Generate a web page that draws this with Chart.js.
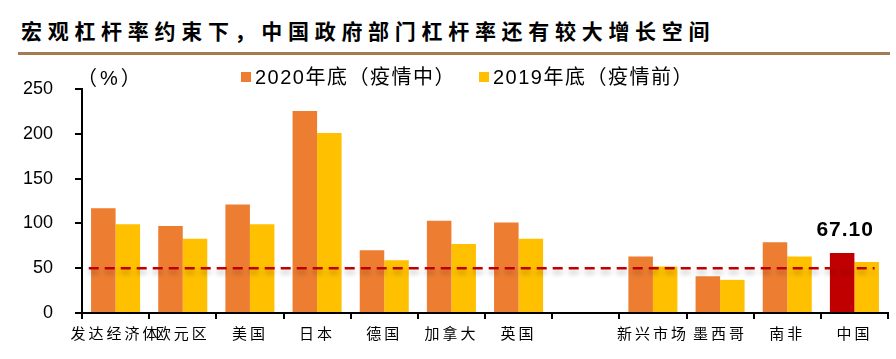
<!DOCTYPE html>
<html>
<head>
<meta charset="utf-8">
<script src="https://cdn.jsdelivr.net/npm/chart.js@4.4.1/dist/chart.umd.min.js"></script>
<style>
  body { margin: 0; background: #fff; }
  #wrap { position: relative; width: 896px; height: 359px; overflow: hidden; }
  #title {
    position: absolute; left: 21px; top: 20px;
    font: bold 21px/1 "Noto Sans CJK SC", sans-serif;
    letter-spacing: 5.7px; color: #000; white-space: nowrap;
  }
  #rule { position: absolute; left: 18px; top: 52px; width: 872px; height: 3px; background: #A37B53; }
  #c { position: absolute; left: 0; top: 0; }
</style>
</head>
<body>
<div id="wrap">
  <div id="title">宏观杠杆率约束下，中国政府部门杠杆率还有较大增长空间</div>
  <div id="rule"></div>
  <canvas id="c" width="896" height="359"></canvas>
</div>
<script>
const categories = ["发达经济体", "欧元区", "美国", "日本", "德国", "加拿大", "英国", "", "新兴市场", "墨西哥", "南非", "中国"];
const lev2020 = [117, 97, 121, 225.5, 70, 103, 101, null, 63, 41, 79, 67.1];
const lev2019 = [99, 83, 99, 201, 59, 77, 83, null, 52, 37, 63, 57];
const label2020 = "2020年底（疫情中）";
const label2019 = "2019年底（疫情前）";
const refLevel = 50;
const refSpan = [-0.4, 11.3]; // in category units
const yTicks = [0, 50, 100, 150, 200, 250];

const orange = "#ED7D31";
const yellow = "#FFC000";
const darkRed = "#C00000";

// China bar gets the dark red
const colors2020 = categories.map((c) => (c === "中国" ? darkRed : orange));

const extras = {
  id: "extras",
  afterDatasetsDraw(chart) {
    const ctx = chart.ctx;
    const x = chart.scales.x;
    const y = chart.scales.y;
    const yy = y.getPixelForValue(refLevel);

    // dashed reference line with soft shadow
    ctx.save();
    ctx.strokeStyle = darkRed;
    ctx.lineWidth = 2.5;
    ctx.setLineDash([10, 6]);
    ctx.shadowColor = "rgba(0,0,0,0.28)";
    ctx.shadowBlur = 5;
    ctx.shadowOffsetY = 4;
    ctx.beginPath();
    ctx.moveTo(x.getPixelForValue(refSpan[0]), yy);
    ctx.lineTo(x.getPixelForValue(refSpan[1]), yy);
    ctx.stroke();
    ctx.restore();

    // x labels (ticks.z = 1, drawn after this) get wider spacing
    ctx.letterSpacing = "3px";
  },
  afterDraw(chart) {
    const ctx = chart.ctx;
    ctx.letterSpacing = "0px";
    ctx.save();
    ctx.fillStyle = "#000";
    ctx.textBaseline = "middle";

    // unit
    ctx.font = '20px "Liberation Sans", "Noto Sans CJK SC"';
    ctx.letterSpacing = "3px";
    ctx.fillText("（%）", 77, 79);

    // legend
    const items = [
      { x: 241, text: label2020, color: orange },
      { x: 479, text: label2019, color: yellow },
    ];
    ctx.letterSpacing = "1.5px";
    items.forEach((it) => {
      ctx.fillStyle = it.color;
      ctx.fillRect(it.x, 72, 10, 10);
      ctx.fillStyle = "#000";
      ctx.fillText(it.text, it.x + 14, 78);
    });

    // value label on China bar
    const meta = chart.getDatasetMeta(0);
    const i = categories.indexOf("中国");
    const bar = meta.data[i];
    ctx.font = 'bold 21px "Liberation Sans"';
    ctx.letterSpacing = "1px";
    ctx.textAlign = "center";
    ctx.textBaseline = "alphabetic";
    ctx.fillText(lev2020[i].toFixed(2), bar.x + 3, bar.y - 17);
    ctx.restore();
    ctx.letterSpacing = "0px";
  },
};

new Chart(document.getElementById("c"), {
  type: "bar",
  data: {
    labels: categories,
    datasets: [
      {
        label: label2020,
        data: lev2020,
        backgroundColor: colors2020,
      },
      {
        label: label2019,
        data: lev2019,
        backgroundColor: yellow,
      },
    ],
  },
  options: {
    responsive: false,
    animation: false,
    barPercentage: 1,
    categoryPercentage: 0.73,
    layout: { padding: { left: 0, right: 8, top: 89, bottom: 0 } },
    plugins: {
      legend: { display: false },
      tooltip: { enabled: false },
    },
    scales: {
      x: {
        grid: {
          offset: true,
          drawOnChartArea: false,
          color: "#000",
          lineWidth: 2,
          tickLength: 6,
        },
        border: { color: "#000", width: 2 },
        ticks: {
          z: 1,
          autoSkip: false,
          maxRotation: 0,
          color: "#000",
          padding: 5,
          font: { family: '"Noto Sans CJK SC"', size: 15 },
        },
        afterFit: (scale) => {
          scale.height = 46;
        },
      },
      y: {
        min: 0,
        max: 250,
        afterBuildTicks: (scale) => {
          scale.ticks = yTicks.map((v) => ({ value: v }));
        },
        grid: {
          drawOnChartArea: false,
          color: "#000",
          lineWidth: 2,
          tickLength: 7,
        },
        border: { color: "#000", width: 2 },
        ticks: {
          color: "#000",
          padding: 22,
          font: { family: '"Liberation Sans"', size: 18 },
        },
        afterFit: (scale) => {
          scale.width = 82;
        },
      },
    },
  },
  plugins: [extras],
});
</script>
</body>
</html>
